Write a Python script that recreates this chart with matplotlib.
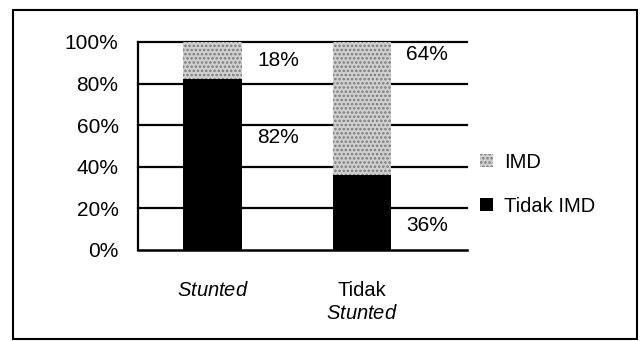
import matplotlib.pyplot as plt
from matplotlib.patches import Rectangle
import numpy as np

plt.rcParams.update({
    "font.family": ["Liberation Sans", "DejaVu Sans"],
    "mathtext.fontset": "custom",
    "mathtext.rm": "Liberation Sans",
    "mathtext.it": "Liberation Sans:italic",
    "hatch.linewidth": 1.2,
})

# data
categories = [r"$\it{Stunted}$", "Tidak\n" + r"$\it{Stunted}$"]
tidak_imd = [82, 36]
imd = [18, 64]
y_ticks = [0, 20, 40, 60, 80, 100]

fig = plt.figure(figsize=(6.4, 3.41), dpi=100)
ax = fig.add_axes([0.2156, 0.2669, 0.514, 0.61])

x = np.arange(len(categories))
w = 0.39
b1 = ax.bar(x, tidak_imd, w, color="black", label="Tidak IMD", zorder=3)
b2 = ax.bar(x, imd, w, bottom=tidak_imd, facecolor="#d0d0d0", edgecolor="#7a7a7a",
            hatch="....", linewidth=0, label="IMD", zorder=3)

# value labels, placed by hand like the original
ax.text(0.44, 91, f"{imd[0]}%", ha="center", va="center", fontsize=15)
ax.text(0.44, 54, f"{tidak_imd[0]}%", ha="center", va="center", fontsize=15)
ax.text(1.435, 94, f"{imd[1]}%", ha="center", va="center", fontsize=15)
ax.text(1.435, 12, f"{tidak_imd[1]}%", ha="center", va="center", fontsize=15)

ax.set_xlim(-0.498, 1.70)
ax.set_ylim(0, 100)
ax.set_yticks(y_ticks, [f"{v}%" for v in y_ticks], fontsize=15)
ax.set_xticks(x, categories, fontsize=14.5, linespacing=1.3)
ax.tick_params(axis="y", length=0, pad=14)
ax.tick_params(axis="x", length=0, pad=22)
for v in y_ticks[1:]:
    ax.axhline(v, color="black", lw=1.6, zorder=1, clip_on=False)
for s in ["top", "right"]:
    ax.spines[s].set_visible(False)
ax.spines["left"].set_linewidth(1.6)
ax.spines["bottom"].set_linewidth(1.8)

ax.legend(handles=[b2, b1], labels=["IMD", "Tidak IMD"], loc="center left",
          bbox_to_anchor=(0.75, 0.46), bbox_transform=fig.transFigure,
          frameon=False, fontsize=14.5, labelspacing=1.25, handlelength=0.65,
          handleheight=0.65, handletextpad=0.55, borderpad=0, borderaxespad=0)

# outer frame around the chart
fig.patches.append(Rectangle((13 / 640, 2 / 341), 624 / 640, 329 / 341,
                             transform=fig.transFigure, fill=False,
                             edgecolor="black", lw=1.5))

plt.savefig("out.png", dpi=100)
